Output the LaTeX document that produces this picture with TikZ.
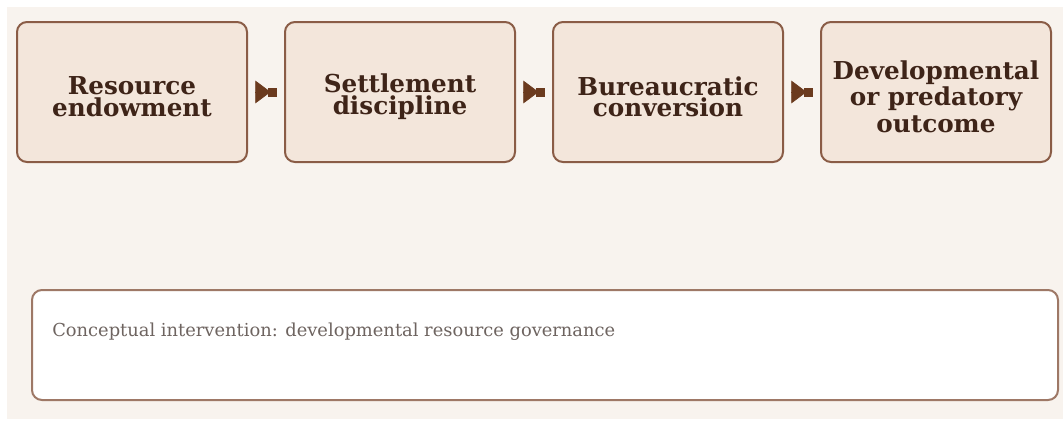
\documentclass[tikz,border=0pt]{standalone}
\usepackage{fontspec}
\setmainfont{DejaVu Serif}
\usepackage{xcolor}
\usepackage{tikz}
\usetikzlibrary{arrows.meta,positioning}
\definecolor{paper}{HTML}{F8F3EE}
\definecolor{stagefill}{HTML}{F3E6DB}
\definecolor{stageedge}{HTML}{8A5C46}
\definecolor{ink}{HTML}{3E2418}
\definecolor{rust}{HTML}{6B3A1E}
\definecolor{noteedge}{HTML}{9E7866}
\definecolor{noteink}{HTML}{6E6460}
\tikzset{
  stage/.style    ={rounded corners=7.5pt,draw=stageedge,line width=1.5pt,fill=stagefill,
                    minimum width=172.5pt,minimum height=105pt,outer sep=0pt},
  stagetext/.style={inner sep=0pt,align=center,text=ink,
                    font=\fontsize{18.5}{16}\selectfont\bfseries},
  note/.style     ={rounded corners=7.5pt,draw=noteedge,line width=1.5pt,fill=white,
                    minimum width=769.5pt,minimum height=82.5pt},
  flow/.style     ={-{Triangle[length=11.5pt,width=17pt,sep=-2pt]Rectangle[length=6.75pt,width=6.5pt]},
                    draw=rust,line width=0.6pt,shorten <=6pt,shorten >=6pt}
}
\begin{document}
\begin{tikzpicture}[x=0.75pt,y=-0.75pt,node distance=28.5pt]
        \useasboundingbox (0,0) rectangle (1063,421);
        \fill[paper] (7,7) rectangle (1063,419);
        % the four stages, left to right
        \node[stage] (endow) at (132,92) {};
        \node[stage,right=of endow] (settle) {};
        \node[stage,right=of settle] (convert) {};
        \node[stage,right=of convert] (outcome) {};
        \node[stagetext] (endowtext) at ([yshift=-3.5pt]endow.center) {Resource\\endowment};
        \node[stagetext] (settletext) at ([yshift=-3.5pt]settle.center) {Settlement\\discipline};
        \node[stagetext] (converttext) at ([yshift=-3.5pt]convert.center) {Bureaucratic\\conversion};
        \node[stagetext,font=\fontsize{18.5}{20}\selectfont\bfseries] (outcometext)
          at ([yshift=-3.5pt]outcome.center) {Developmental\\or predatory\\outcome};
        \draw[flow] (endow) -- (settle);
        \draw[flow] (settle) -- (convert);
        \draw[flow] (convert) -- (outcome);
        % intervention panel
        \node[note] (interv) at (545,345) {};
        \node[anchor=west,inner sep=0pt,text=noteink,font=\fontsize{13.4}{15}\selectfont]
          (intertext) at (52,332) {Conceptual intervention: developmental resource governance};
      \end{tikzpicture}
\end{document}
